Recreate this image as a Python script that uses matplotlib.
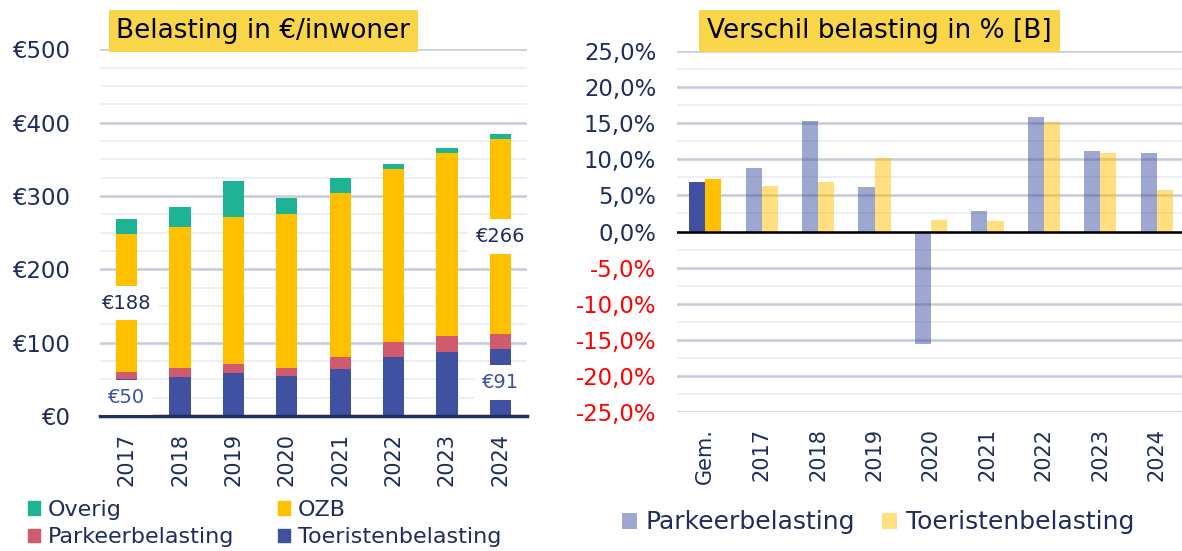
import matplotlib
matplotlib.use("Agg")
import matplotlib.pyplot as plt
import numpy as np
from matplotlib.patches import Patch
from matplotlib.ticker import MultipleLocator, FuncFormatter

plt.rcParams['font.family'] = ['DejaVu Sans']

# ---------------- data ----------------
years = ['2017', '2018', '2019', '2020', '2021', '2022', '2023', '2024']
toeristen = [50, 53, 58, 55, 64, 81, 87, 91]
parkeer = [10, 12, 13, 10, 16, 20, 22, 21]
ozb = [188, 193, 200, 211, 224, 236, 250, 266]
overig = [21, 27, 50, 21, 21, 7, 7, 7]

pct_cats = ['Gem.', '2017', '2018', '2019', '2020', '2021', '2022', '2023', '2024']
parkeer_pct = [6.9, 8.8, 15.3, 6.1, -15.6, 2.8, 15.8, 11.2, 10.9]
toer_pct = [7.3, 6.3, 6.9, 10.2, 1.6, 1.4, 15.2, 10.9, 5.7]

left_yticks = [0, 100, 200, 300, 400, 500]
right_yticks = [-25, -20, -15, -10, -5, 0, 5, 10, 15, 20, 25]

# ---------------- style ----------------
NAVY = '#1f2c5c'
C_OVERIG = '#1db394'
C_OZB = '#ffc000'
C_PARK = '#d05a6e'
C_TOER = '#3f51a0'
TITLE_BG = '#f9d54a'
GRID_MAJ = '#c6cbd8'
GRID_MIN = '#eceef4'

W, H = 1182, 551
fig = plt.figure(figsize=(W / 100, H / 100), dpi=100)

def frac(x0, y0, x1, y1):
    return [x0 / W, 1 - y1 / H, (x1 - x0) / W, (y1 - y0) / H]

# ================= LEFT =================
ax1 = fig.add_axes(frac(100, 49.3, 527, 416))
x = np.arange(len(years))
bw = 0.40
t = np.array(toeristen); p = np.array(parkeer); o = np.array(ozb); ov = np.array(overig)
ax1.bar(x, t, bw, color=C_TOER, zorder=3)
ax1.bar(x, p, bw, bottom=t, color=C_PARK, zorder=3)
ax1.bar(x, o, bw, bottom=t + p, color=C_OZB, zorder=3)
ax1.bar(x, ov, bw, bottom=t + p + o, color=C_OVERIG, zorder=3)

ax1.set_xlim(-0.5, len(years) - 0.5)
ax1.set_ylim(0, 500)
ax1.set_yticks(left_yticks)
ax1.yaxis.set_minor_locator(MultipleLocator(25))
ax1.yaxis.set_major_formatter(FuncFormatter(lambda v, _: '€%d' % v))
ax1.grid(axis='y', which='major', color=GRID_MAJ, lw=1.8, zorder=0)
ax1.grid(axis='y', which='minor', color=GRID_MIN, lw=1.3, zorder=0)
ax1.set_xticks(x)
ax1.set_xticklabels(years, rotation=90)
for s in ['top', 'right', 'left']:
    ax1.spines[s].set_visible(False)
ax1.spines['bottom'].set_color(NAVY)
ax1.spines['bottom'].set_linewidth(2.5)
ax1.spines['bottom'].set_zorder(5)
ax1.tick_params(axis='y', which='both', length=0, pad=21.5, labelsize=16.4, labelcolor=NAVY)
ax1.tick_params(axis='x', length=0, pad=12, labelsize=15, labelcolor=NAVY)

# data labels (first and last year for OZB and Toeristen)
lab_box = dict(boxstyle='square,pad=0.4', fc='white', ec='none')
for i in [0, len(years) - 1]:
    ax1.text(x[i], t[i] + p[i] + o[i] / 2, '€%d' % o[i], ha='center', va='center',
             fontsize=14, color=NAVY, bbox=lab_box, zorder=6)
    ax1.text(x[i], t[i] / 2, '€%d' % t[i], ha='center', va='center',
             fontsize=14, color=C_TOER, bbox=lab_box, zorder=6)

fig.text(116.5 / W, 1 - 31 / H, 'Belasting in €/inwoner', ha='left', va='center',
         fontsize=18.9, color='black',
         bbox=dict(boxstyle='square,pad=0.3', fc=TITLE_BG, ec='none'))

h1 = [Patch(color=C_OVERIG), Patch(color=C_PARK), Patch(color=C_OZB), Patch(color=C_TOER)]
l1 = ['Overig', 'Parkeerbelasting', 'OZB', 'Toeristenbelasting']
fig.legend(h1, l1, ncol=2, loc='center left', bbox_to_anchor=(28 / W, 1 - 523.5 / H),
           frameon=False, fontsize=16, labelcolor=NAVY, handlelength=0.55,
           handleheight=0.55, handletextpad=0.35, columnspacing=1.95,
           labelspacing=0.32, borderpad=0, borderaxespad=0)

# ================= RIGHT =================
ax2 = fig.add_axes(frac(677, 50.7, 1185, 412.3))
xr = np.arange(len(pct_cats))
bw2 = 0.285
pp = np.array(parkeer_pct); tp = np.array(toer_pct)
ax2.bar(xr[1:] - bw2 / 2, pp[1:], bw2, color=C_TOER, alpha=0.5, lw=0, zorder=3)
ax2.bar(xr[1:] + bw2 / 2, tp[1:], bw2, color=C_OZB, alpha=0.5, lw=0, zorder=3)
ax2.bar(xr[:1] - bw2 / 2, pp[:1], bw2, color=C_TOER, lw=0, zorder=3)
ax2.bar(xr[:1] + bw2 / 2, tp[:1], bw2, color=C_OZB, lw=0, zorder=3)
ax2.axhline(0, color='black', lw=1.8, zorder=5)

ax2.set_xlim(-0.5, len(pct_cats) - 0.5)
ax2.set_ylim(-25, 25)
ax2.set_yticks(right_yticks)
ax2.yaxis.set_minor_locator(MultipleLocator(2.5))
ax2.yaxis.set_major_formatter(FuncFormatter(lambda v, _: ('%.1f%%' % v).replace('.', ',')))
ax2.grid(axis='y', which='major', color=GRID_MAJ, lw=1.8, zorder=0)
ax2.grid(axis='y', which='minor', color=GRID_MIN, lw=1.3, zorder=0)
ax2.set_xticks(xr)
ax2.set_xticklabels(pct_cats, rotation=90)
for s in ['top', 'right', 'left', 'bottom']:
    ax2.spines[s].set_visible(False)
ax2.tick_params(axis='y', which='both', length=0, pad=15, labelsize=16.4, labelcolor=NAVY)
ax2.tick_params(axis='x', length=0, pad=11.5, labelsize=15, labelcolor=NAVY)
for lab, v in zip(ax2.get_yticklabels(), right_yticks):
    if v < 0:
        lab.set_color('#ff0000')

fig.text(707 / W, 1 - 31 / H, 'Verschil belasting in % [B]', ha='left', va='center',
         fontsize=18.9, color='black',
         bbox=dict(boxstyle='square,pad=0.3', fc=TITLE_BG, ec='none'))

h2 = [Patch(color=C_TOER, alpha=0.5, lw=0), Patch(color=C_OZB, alpha=0.5, lw=0)]
l2 = ['Parkeerbelasting', 'Toeristenbelasting']
fig.legend(h2, l2, ncol=2, loc='center left', bbox_to_anchor=(621.5 / W, 1 - 522.5 / H),
           frameon=False, fontsize=18, labelcolor=NAVY, handlelength=0.6,
           handleheight=0.6, handletextpad=0.35, columnspacing=1.1,
           borderpad=0, borderaxespad=0)

fig.savefig('out.png', dpi=100)
